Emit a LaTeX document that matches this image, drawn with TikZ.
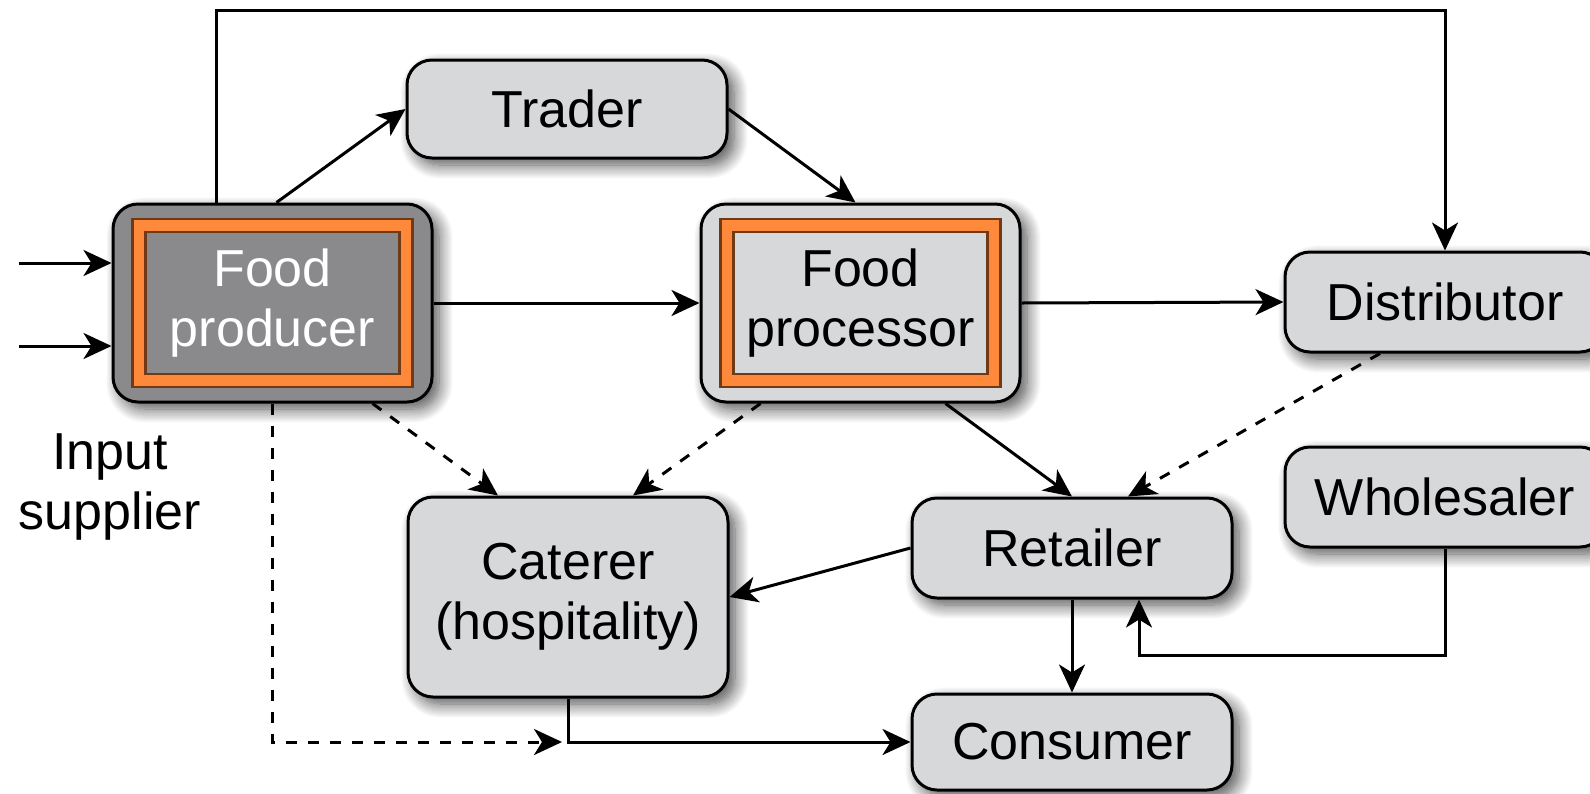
\documentclass[tikz,border=0pt]{standalone}
\usepackage{fontspec}
\setmainfont{Liberation Sans}
\usetikzlibrary{arrows.meta,shadows.blur,calc}
\definecolor{boxgrey}{RGB}{215,216,218}
\definecolor{darkbox}{RGB}{138,138,140}
\definecolor{orng}{RGB}{255,137,58}
\definecolor{brwn}{RGB}{112,58,22}
\begin{document}
\begin{tikzpicture}[x=1pt,y=-1pt,
  box/.style={draw=black, line width=3pt, rounded corners=25pt, fill=boxgrey,
    minimum width=320pt, minimum height=100pt, align=center, inner sep=0pt,
    font=\fontsize{52}{60}\selectfont,
    blur shadow={shadow xshift=7pt, shadow yshift=-7pt, shadow blur radius=14pt,
      shadow blur steps=14, shadow opacity=70}},
  framed/.style={path picture={
    \draw[sharp corners, brwn, line width=2.5pt, fill=orng]
      ([shift={(-140,-84)}]path picture bounding box.center) rectangle
      ([shift={(140,84)}]path picture bounding box.center);
    \draw[sharp corners, brwn, line width=2.5pt, fill=#1]
      ([shift={(-127,-71)}]path picture bounding box.center) rectangle
      ([shift={(127,71)}]path picture bounding box.center);}},
  arr/.style={line width=3pt, -{Stealth[length=28pt,width=26pt,inset=8pt]}},
  dsh/.style={arr, dash pattern=on 11pt off 11pt},
  lbl/.style={align=center, font=\fontsize{52}{60}\selectfont}]
\useasboundingbox (0,0) rectangle (1590,793);

% nodes
\node[box, fill=darkbox, framed=darkbox, text=white, minimum width=319pt, minimum height=198pt] (prod) at (272.5,303) {Food\\producer};
\node[box, framed=boxgrey, minimum width=319pt, minimum height=198pt] (proc) at (860.5,303) {Food\\processor};
\node[box, minimum height=98pt] (trader) at (567,109) {Trader};
\node[box] (dist) at (1445,302) {Distributor};
\node[box] (whole) at (1445,497) {Wholesaler};
\node[box] (retail) at (1072,548) {Retailer};
\node[box, minimum height=200pt] (cater) at (568,597) {Caterer\\(hospitality)};
\node[box, minimum height=96pt] (cons) at (1072,742) {Consumer};
\node[lbl] (inp) at (110,487) {Input\\supplier};

% connectors
\coordinate (in1) at (19,263);
\coordinate (in2) at (19,346);
\coordinate (tl) at (216,10);
\draw[arr] (in1) -- (in1 -| prod.west);
\draw[arr] (in2) -- (in2 -| prod.west);
\draw[arr] ([xshift=4pt]prod.north) -- (trader.west);
\draw[arr] (tl |- prod.north) -- (tl) -| (dist.north);
\draw[arr] (trader.east) -- ([xshift=-5pt]proc.north);
\draw[arr] (prod.east) -- (proc.west);
\draw[arr] (proc.east) -- (dist.west);
\draw[dsh] ([xshift=100pt]prod.south) -- ([xshift=-70pt]cater.north);
\draw[dsh] ([xshift=-100pt]proc.south) -- ([xshift=65pt]cater.north);
\draw[arr] ([xshift=85pt]proc.south) -- (retail.north);
\draw[dsh] ([xshift=-65pt]dist.south) -- ([xshift=56pt]retail.north);
\draw[arr] (retail.west) -- (cater.east);
\draw[arr] (retail.south) -- (cons.north);
\coordinate (wr) at ([xshift=67pt]retail.south);
\draw[arr] (whole.south) |- ($(wr)+(0,56)$) -- (wr);
\draw[arr] (cater.south) |- (cons.west);
\coordinate (jn) at (cater.south |- cons.west);
\draw[dsh] (prod.south) |- ([xshift=-6pt]jn);
\end{tikzpicture}
\end{document}
